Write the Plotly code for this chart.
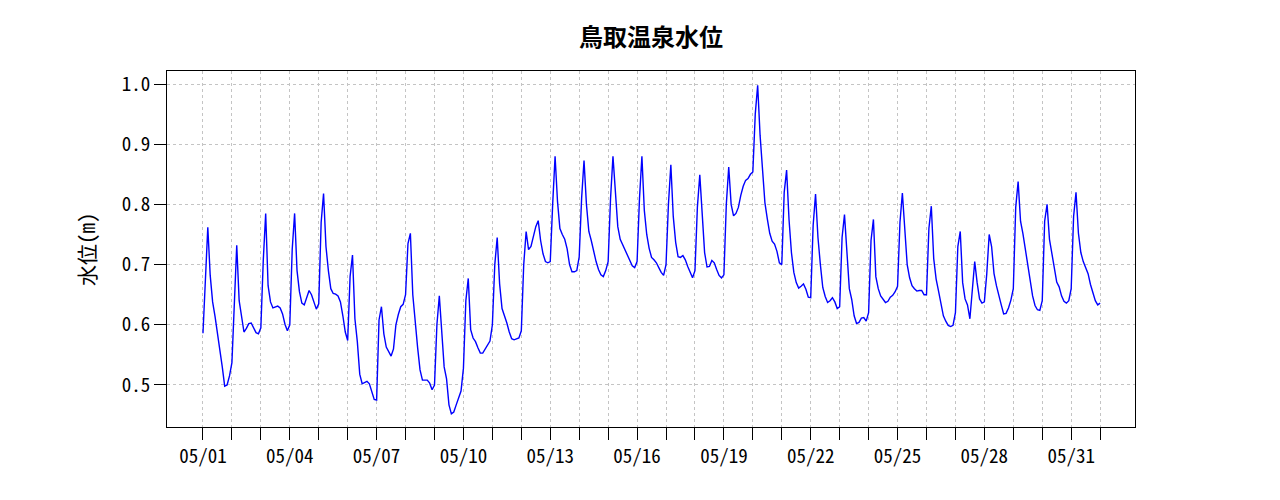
import pandas as pd
import plotly.graph_objects as go

# Water level (m), sampled every 2 hours from 05/01 00:00 (12 values per day)
week1 = [  # 05/01 - 05/07
    0.586, 0.685, 0.762, 0.682, 0.638, 0.614, 0.582, 0.558, 0.530, 0.498, 0.500, 0.515,
    0.537, 0.645, 0.732, 0.640, 0.613, 0.588, 0.594, 0.602, 0.603, 0.595, 0.587, 0.585,
    0.595, 0.707, 0.785, 0.665, 0.638, 0.628, 0.630, 0.631, 0.628, 0.618, 0.601, 0.590,
    0.600, 0.725, 0.785, 0.690, 0.655, 0.636, 0.633, 0.647, 0.657, 0.650, 0.637, 0.626,
    0.635, 0.770, 0.818, 0.730, 0.690, 0.660, 0.652, 0.651, 0.648, 0.638, 0.615, 0.588,
    0.574, 0.680, 0.716, 0.610, 0.572, 0.518, 0.502, 0.504, 0.506, 0.502, 0.490, 0.476,
    0.475, 0.608, 0.630, 0.585, 0.563, 0.555, 0.548, 0.560, 0.600, 0.617, 0.630, 0.634,
]
week2 = [  # 05/08 - 05/14
    0.650, 0.735, 0.752, 0.650, 0.600, 0.562, 0.525, 0.508, 0.508, 0.508, 0.503, 0.492,
    0.500, 0.600, 0.648, 0.580, 0.530, 0.510, 0.467, 0.452, 0.455, 0.467, 0.480, 0.490,
    0.528, 0.640, 0.677, 0.592, 0.578, 0.572, 0.562, 0.553, 0.553, 0.560, 0.568, 0.573,
    0.600, 0.700, 0.745, 0.668, 0.627, 0.616, 0.603, 0.588, 0.577, 0.575, 0.576, 0.578,
    0.590, 0.700, 0.755, 0.725, 0.730, 0.748, 0.763, 0.773, 0.740, 0.718, 0.705, 0.703,
    0.705, 0.800, 0.880, 0.805, 0.760, 0.750, 0.742, 0.726, 0.700, 0.688, 0.688, 0.690,
    0.713, 0.810, 0.873, 0.800, 0.755, 0.740, 0.720, 0.705, 0.692, 0.683, 0.680, 0.690,
]
week3 = [  # 05/15 - 05/21
    0.705, 0.810, 0.880, 0.815, 0.763, 0.742, 0.733, 0.725, 0.716, 0.705, 0.698, 0.695,
    0.705, 0.810, 0.880, 0.790, 0.750, 0.727, 0.712, 0.708, 0.703, 0.695, 0.687, 0.682,
    0.700, 0.800, 0.866, 0.780, 0.737, 0.713, 0.712, 0.715, 0.708, 0.697, 0.686, 0.678,
    0.690, 0.795, 0.849, 0.785, 0.720, 0.696, 0.697, 0.707, 0.703, 0.692, 0.682, 0.678,
    0.683, 0.800, 0.862, 0.800, 0.781, 0.785, 0.795, 0.815, 0.830, 0.840, 0.843, 0.850,
    0.854, 0.950, 0.998, 0.915, 0.850, 0.803, 0.776, 0.752, 0.739, 0.734, 0.722, 0.703,
    0.700, 0.820, 0.857, 0.775, 0.720, 0.687, 0.670, 0.661, 0.664, 0.668, 0.659, 0.646,
]
week4 = [  # 05/22 - 05/28
    0.645, 0.765, 0.817, 0.745, 0.700, 0.662, 0.647, 0.637, 0.640, 0.645, 0.638, 0.627,
    0.630, 0.745, 0.783, 0.720, 0.660, 0.642, 0.615, 0.602, 0.604, 0.611, 0.612, 0.606,
    0.620, 0.740, 0.775, 0.680, 0.660, 0.648, 0.643, 0.637, 0.639, 0.646, 0.649, 0.655,
    0.664, 0.770, 0.819, 0.760, 0.700, 0.678, 0.665, 0.660, 0.656, 0.657, 0.657, 0.650,
    0.650, 0.760, 0.797, 0.710, 0.676, 0.656, 0.636, 0.615, 0.606, 0.599, 0.597, 0.599,
    0.620, 0.730, 0.755, 0.670, 0.643, 0.633, 0.610, 0.660, 0.705, 0.670, 0.643, 0.636,
    0.638, 0.685, 0.750, 0.730, 0.685, 0.665, 0.651, 0.633, 0.618, 0.619, 0.628, 0.641,
]
week5 = [  # 05/29 - 05/31, plus 06/01 00:00
    0.660, 0.795, 0.838, 0.772, 0.751, 0.727, 0.698, 0.673, 0.648, 0.632, 0.625, 0.624,
    0.640, 0.772, 0.800, 0.742, 0.718, 0.689, 0.671, 0.663, 0.648, 0.639, 0.636, 0.640,
    0.660, 0.780, 0.820, 0.752, 0.720, 0.705, 0.695, 0.685, 0.667, 0.652, 0.640, 0.633,
    0.636,
]

levels = week1 + week2 + week3 + week4 + week5
times = pd.date_range("2024-05-01 00:00", periods=len(levels), freq="2h")

day_ticks = pd.date_range("2024-05-01", "2024-06-01", freq="D")
day_labels = [d.strftime("%m/%d") if (d.day - 1) % 3 == 0 and d.month == 5 else "" for d in day_ticks]
y_ticks = [0.5, 0.6, 0.7, 0.8, 0.9, 1.0]
y_labels = ["0.5", "0.6", "0.7", "0.8", "0.9", "1.0"]

title_text = "鳥取温泉水位"
y_title = "水位(m)"

FONT = "Noto Sans Mono CJK JP, Noto Sans CJK JP, DejaVu Sans Mono, monospace"

# page body has an 8px margin, so the figure is sized/offset to compensate
W, H = 1264, 484

fig = go.Figure()
fig.add_trace(go.Scatter(
    x=times, y=levels, mode="lines",
    line=dict(color="#0000FF", width=1.4),
    hoverinfo="x+y", showlegend=False,
))

axis_common = dict(
    showline=True, linecolor="black", linewidth=1, mirror=True,
    ticks="outside", ticklen=12, tickwidth=1, tickcolor="black",
    showgrid=True, gridcolor="#C4C4C4", griddash="dot", gridwidth=1,
    zeroline=False,
    tickfont=dict(family=FONT, size=19, color="black"),
)

fig.update_layout(
    width=W, height=H,
    paper_bgcolor="white", plot_bgcolor="white",
    margin=dict(l=159, r=137, t=63, b=65, autoexpand=False),
    title=dict(text=title_text, x=0.5, xref="paper", xanchor="center",
               y=1 - 30 / H, yref="container", yanchor="middle",
               font=dict(family="Noto Sans CJK JP", size=24, color="black", weight="bold")),
    xaxis=dict(
        type="date",
        range=["2024-04-29 18:10", "2024-06-02 04:55"],
        tickmode="array", tickvals=day_ticks, ticktext=day_labels,
        **axis_common,
    ),
    yaxis=dict(
        range=[0.4302, 1.0216],
        tickmode="array", tickvals=y_ticks, ticktext=y_labels,
        **axis_common,
    ),
    annotations=[dict(
        text=y_title, textangle=-90, xref="paper", yref="paper",
        x=(86 - 167) / 968, y=0.5, xanchor="center", yanchor="middle",
        showarrow=False, font=dict(family=FONT, size=21, color="black"),
    )],
)

fig.write_html("out.html")
